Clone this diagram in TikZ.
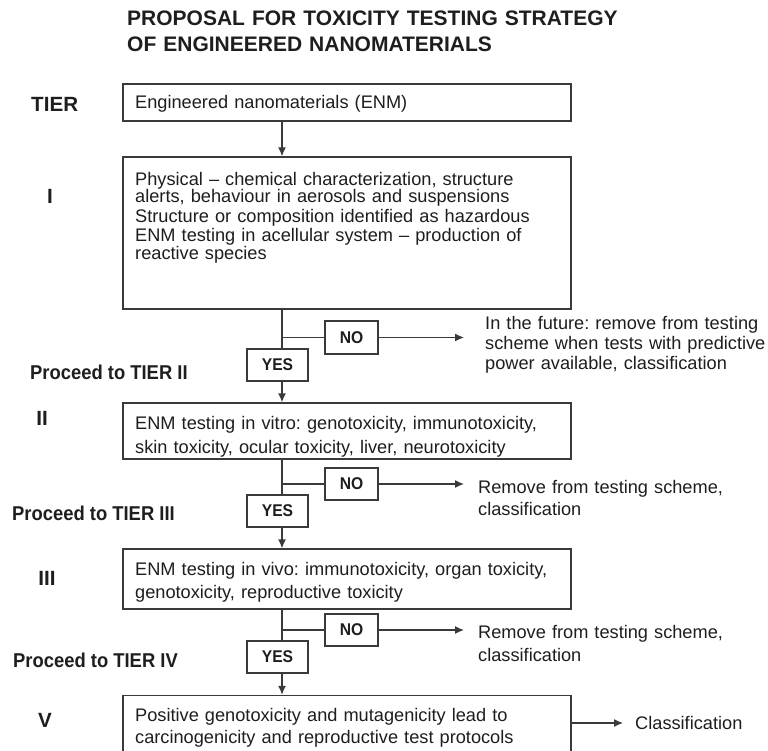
\documentclass[tikz,border=0pt]{standalone}
\usepackage{fontspec}
\setmainfont{Liberation Sans}
\newfontfamily\bodyfont[FakeStretch=0.92]{Liberation Sans}
\newfontfamily\headfont{Liberation Sans}
\usetikzlibrary{arrows.meta}
\definecolor{ink}{HTML}{1E1E1E}
\definecolor{edge}{HTML}{3A3A3A}
\newcommand\setlines[1]{\fontsize{18.2}{#1}\selectfont\lineskiplimit=-50pt\relax\frenchspacing}
\begin{document}
\begin{tikzpicture}[x=1pt,y=-1pt,
  box/.style={draw=edge, line width=1.3pt, minimum width=448pt, inner sep=0pt},
  small/.style={draw=edge, line width=1.3pt, inner sep=0pt, fill=white, text=ink,
    font=\bodyfont\bfseries\fontsize{17}{18}\selectfont},
  txt/.style={anchor=base west, inner sep=0pt, text width=440pt, align=left, text=ink,
    font=\headfont\setlines{#1}, execute at begin node={\setlines{#1}}},
  lab/.style={anchor=base west, inner sep=0pt, text=ink,
    font=\bodyfont\bfseries\fontsize{20}{24}\selectfont},
  tierlab/.style={inner sep=0pt, text=ink, font=\headfont\bfseries\fontsize{20.6}{24}\selectfont},
  conn/.style={draw=edge, line width=1.3pt},
  arr/.style={conn, -{Latex[length=9pt,width=8pt]}}
]
\clip (0,0) rectangle (768,751);
\fill[white] (0,0) rectangle (768,751);

% title
\node[anchor=base west, inner sep=0pt, text width=640pt, align=left, text=ink,
  font=\headfont\bfseries\fontsize{21}{26}\selectfont,
  execute at begin node={\fontsize{21}{26}\selectfont\lineskiplimit=-50pt\relax}] (title) at (127,26)
  {PROPOSAL FOR TOXICITY TESTING STRATEGY\\OF ENGINEERED NANOMATERIALS};

% tier labels
\node[tierlab, anchor=base west] (tier) at (31,112) {TIER};
\node[tierlab, anchor=base] (n1) at (50,204) {I};
\node[tierlab, anchor=base] (n2) at (42,425) {II};
\node[tierlab, anchor=base] (n3) at (47,585) {III};
\node[tierlab, anchor=base] (n5) at (45,727) {V};
\node[lab] (p2) at (30,379) {Proceed to TIER II};
\node[lab] (p3) at (12,520) {Proceed to TIER III};
\node[lab] (p4) at (13,667) {Proceed to TIER IV};

% main boxes
\node[box, minimum height=37pt] (B1) at (347,102.5) {};
\node[box, minimum height=152pt] (B2) at (347,233) {};
\node[box, minimum height=56pt] (BII) at (347,431) {};
\node[box, minimum height=60pt] (BIII) at (347,579) {};
\node[box, minimum height=74.5pt] (BV) at (347,732.75) {};

% box texts
\node[txt=22] (t1) at (135,109) {Engineered nanomaterials (ENM)};
\node[txt=17.5] (t2) at (135,185.5) {Physical – chemical characterization, structure\\alerts, behaviour in aerosols and suspensions\\[2pt]Structure or composition identified as hazardous\\[2pt]ENM testing in acellular system – production of\\reactive species};
\node[txt=24] (t3) at (135,429) {ENM testing in vitro: genotoxicity, immunotoxicity,\\skin toxicity, ocular toxicity, liver, neurotoxicity};
\node[txt=23] (t4) at (135,575) {ENM testing in vivo: immunotoxicity, organ toxicity,\\genotoxicity, reproductive toxicity};
\node[txt=22] (t5) at (135,721.5) {Positive genotoxicity and mutagenicity lead to\\carcinogenicity and reproductive test protocols};

% decision boxes
\node[small, minimum width=53pt, minimum height=33pt] (NO1) at (351.5,337.5) {NO};
\node[small, minimum width=61pt, minimum height=32pt] (YES1) at (277.5,365) {YES};
\node[small, minimum width=53pt, minimum height=32pt] (NO2) at (351.5,484) {NO};
\node[small, minimum width=61pt, minimum height=32pt] (YES2) at (277.5,511) {YES};
\node[small, minimum width=53pt, minimum height=32pt] (NO3) at (351.5,630) {NO};
\node[small, minimum width=61pt, minimum height=32pt] (YES3) at (277.5,657) {YES};

% outcome texts
\node[txt=20] (o1) at (485,329) {In the future: remove from testing\\scheme when tests with predictive\\power available, classification};
\node[txt=22] (o2) at (478,493) {Remove from testing scheme,\\classification};
\node[txt=23] (o3) at (478,638) {Remove from testing scheme,\\classification};
\node[txt=22] (o5) at (635,729) {Classification};

% connectors
\coordinate (c) at (282,0);
\coordinate (f) at (464,0);
\coordinate (g) at (623,0);
\coordinate (k) at (0,723);

\draw[arr] (B1.south -| c) -- (B2.north -| c);

\draw[conn] (B2.south -| c) -- (YES1.north -| c);
\draw[conn] (NO1.west -| c) -- (NO1.west);
\draw[arr] (YES1.south -| c) -- (BII.north -| c);
\draw[arr] (NO1.east) -- (NO1.east -| f);

\draw[conn] (BII.south -| c) -- (YES2.north -| c);
\draw[conn] (NO2.west -| c) -- (NO2.west);
\draw[arr] (YES2.south -| c) -- (BIII.north -| c);
\draw[arr] (NO2.east) -- (NO2.east -| f);

\draw[conn] (BIII.south -| c) -- (YES3.north -| c);
\draw[conn] (NO3.west -| c) -- (NO3.west);
\draw[arr] (YES3.south -| c) -- (BV.north -| c);
\draw[arr] (NO3.east) -- (NO3.east -| f);

\draw[arr] (BV.east |- k) -- (g |- k);
\end{tikzpicture}
\end{document}
